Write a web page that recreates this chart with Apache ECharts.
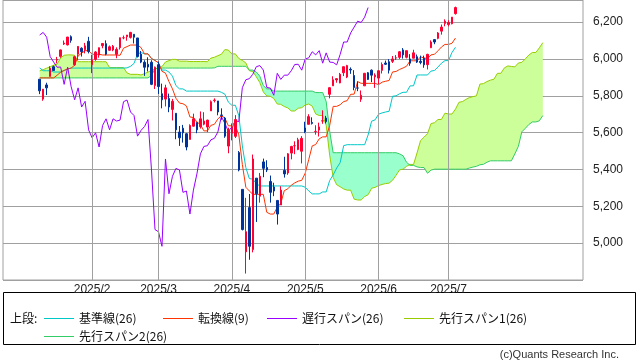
<!DOCTYPE html>
<html><head><meta charset="utf-8">
<script src="https://cdn.jsdelivr.net/npm/echarts@6/dist/echarts.min.js"></script>
<style>html,body{margin:0;padding:0;background:#fff}#c{width:638px;height:362px}</style>
</head><body><div id="c"></div>
<script>
// ---- tick labels ----
const monthLabels = ['2025/2','2025/3','2025/4','2025/5','2025/6','2025/7'];
const monthIdx = [25,44,65,86,107,127];
const yTicks = [5000,5200,5400,5600,5800,6000,6200];
const slotCount = 166;
// ---- candles (start at slot 10) ----
const candleStart = 10;
const open = [5890,5782,5859,5905,5958,5994,6014,6081,6076,6121,
5969,6026,6058,6050,6096,5969,5998,6021,6072,6083,
6047,6049,6025,6061,6115,6121,6117,6134,6114,6026,
5982,5971,5982,5856,5969,5811,5782,5785,5726,5705,
5603,5624,5594,5563,5635,5655,5632,5646,5630,5718,
5775,5772,5696,5679,5527,5597,5580,5492,5292,4953,
5193,4965,5353,5255,5441,5411,5335,5305,5232,5207,
5395,5381,5489,5529,5508,5499,5625,5645,5655,5606,
5614,5663,5679,5808,5854,5886,5870,5925,5902,5944,
5910,5842,5781,5854,5925,5939,5903,5896,5938,5978,
5985,5987,6005,6009,6049,6009,6000,6004,6012,5987,
6004,5969,6061,6105,6112,6151,6193,6187,6191,6246];
const high = [5890,5837,5871,5960,5964,6011,6051,6100,6119,6128,
6017,6070,6063,6087,6120,6023,6042,6062,6084,6101,
6073,6076,6063,6116,6127,6130,6147,6134,6114,6043,
5993,6009,5993,5959,5986,5866,5860,5812,5783,5705,
5636,5642,5598,5645,5703,5655,5715,5711,5670,5775,
5786,5772,5732,5685,5627,5650,5695,5500,5292,5246,
5267,5481,5353,5381,5459,5450,5367,5328,5232,5309,
5469,5489,5528,5553,5572,5581,5659,5700,5683,5640,
5654,5721,5691,5845,5906,5896,5924,5958,5968,5954,
5939,5878,5829,5924,5929,5943,5922,5937,5981,5991,
5999,6016,6021,6043,6059,6045,6026,6050,6024,6018,
6018,6028,6101,6108,6146,6187,6215,6210,6227,6284];
const low = [5809,5773,5804,5905,5935,5976,6006,6076,6074,6088,
5962,5994,6013,6030,6030,5923,5990,6007,6058,6020,
6045,6042,6004,6051,6107,6099,6111,6084,6008,5977,
5908,5932,5858,5837,5810,5732,5742,5711,5666,5564,
5528,5546,5504,5563,5633,5597,5622,5640,5603,5718,
5764,5694,5670,5572,5488,5558,5571,5390,5069,4835,
4910,4950,5115,5220,5358,5386,5220,5255,5101,5207,
5356,5371,5455,5483,5505,5433,5597,5645,5644,5589,
5579,5648,5650,5786,5854,5871,5868,5907,5896,5919,
5830,5825,5767,5854,5886,5874,5843,5862,5921,5967,
5921,5978,5994,6000,6002,6003,5963,6004,5978,5971,
5952,5943,6059,6080,6107,6132,6177,6177,6188,6241];
const close = [5827,5836,5843,5950,5937,5997,6049,6086,6119,6101,
6012,6068,6039,6071,6041,5995,6038,6061,6084,6026,
6066,6069,6052,6115,6115,6130,6144,6118,6013,5983,
5955,5956,5862,5955,5850,5778,5843,5739,5770,5615,
5572,5599,5522,5639,5675,5615,5675,5663,5668,5768,
5777,5712,5693,5581,5612,5633,5671,5397,5074,5062,
4983,5457,5268,5363,5406,5397,5276,5283,5158,5288,
5376,5485,5525,5529,5561,5569,5604,5687,5650,5607,
5631,5664,5660,5844,5887,5893,5917,5958,5964,5940,
5845,5842,5803,5922,5889,5912,5912,5936,5970,5971,
5939,6000,6006,6039,6022,6045,5977,6033,5983,5981,
5968,6025,6092,6092,6141,6173,6205,6198,6227,6279];
// ---- 転換線 / 基準線 (start at slot 10) ----
const tenkan = [5897,5897,5897,5897,5897,5912,5928,5938,5946,5950.5,
5966,6016.5,6031.5,6045,6045,6025.5,6025.5,6025.5,6021.5,6021.5,
6021.5,6021.5,6021.5,6019.5,6058.5,6067,6075.5,6075.5,6075.5,6062,
6027.5,6027.5,6002.5,5992,5978.5,5933,5923,5877,5837.5,5786.5,
5760.5,5757,5745,5685,5682,5658,5643.5,5609.5,5609.5,5639.5,
5645,5674.5,5691.5,5679,5637,5637,5637,5588,5427.5,5303.5,
5283.5,5265,5265,5265,5265,5167.5,5158,5158,5195.5,5215.5,
5285,5295,5314.5,5327,5336.5,5341,5380,5453.5,5528,5535.5,
5566.5,5577,5577,5639,5742.5,5742.5,5751.5,5768.5,5773.5,5808,
5809,5877,5867.5,5867.5,5867.5,5867.5,5867.5,5860.5,5874,5879,
5883,5929.5,5932,5943,5951,5960.5,5990,5990,5990,6011,
6005.5,6001,6022,6025.5,6044.5,6065,6079,6079,6085,6113.5];
const kijun = [5951,5936,5936,5936,5929,5929,5929,5936.5,5945.5,5950.5,
5950.5,5950.5,5950.5,5950.5,5950.5,5950.5,5950.5,5950.5,5950.5,5950.5,
5950.5,5950.5,5950.5,5950.5,5950.5,5951.5,5960,5975.5,6026,6035,
6027.5,6027.5,6002.5,5992,5978.5,5939.5,5939.5,5929,5906.5,5855.5,
5837.5,5837.5,5825.5,5825.5,5825.5,5825.5,5825.5,5825.5,5825.5,5825.5,
5825.5,5825.5,5819,5809,5765.5,5748.5,5748.5,5691.5,5527.5,5410.5,
5350.5,5347.5,5323.5,5310.5,5310.5,5310.5,5310.5,5310.5,5310.5,5310.5,
5310.5,5310.5,5310.5,5310.5,5310.5,5310.5,5303.5,5283.5,5267.5,5267.5,
5267.5,5278,5278,5340,5370.5,5408,5437,5529.5,5534.5,5534.5,
5534.5,5534.5,5534.5,5534.5,5587.5,5662,5669.5,5700.5,5707,5712,
5716,5797.5,5800,5811,5819,5819,5853.5,5854.5,5913,5913,
5913,5913,5934,5937.5,5956.5,5977,5991,5991,6035,6063.5];
// ---- 先行スパン (start at slot 10, runs 26 days ahead) ----
const senkouStart = 10;
const senkouA = [5935,5942,5950,5958,5966,5972,6005,6020,6022,6022,
6020,5985,5985,5985,5985,5985,5985,5985,5985,5985,
5953,5953,5953,5953,5953,
5924,5916.5,5916.5,5916.5,5913,5920.5,5928.5,5937.25,5945.75,5950.5,
5958.25,5983.5,5991,5997.75,5997.75,5988,5988,5988,5986,5986,
5986,5986,5986,5985,6004.5,6009.25,6017.75,6025.5,6050.75,6048.5,
6027.5,6027.5,6002.5,5992,5978.5,5936.25,5931.25,5903,5872,5821,
5799,5797.25,5785.25,5755.25,5753.75,5741.75,5734.5,5717.5,5717.5,5732.5,
5735.25,5750,5755.25,5744,5701.25,5692.75,5692.75,5639.75,5477.5,5357,
5317,5306.25,5294.25,5287.75,5287.75,5239,5234.25,5234.25,5253,5263,
5297.75,5302.75,5312.5,5318.75,5323.5,5325.75,5341.75,5368.5,5397.75,5401.5,
5417,5427.5,5427.5,5489.5,5556.5,5575.25,5594.25,5649,5654,5671.25,
5671.75,5705.75,5701,5701,5727.5,5764.75,5768.5,5780.5,5790.5,5795.5,
5799.5,5863.5,5866,5877,5885,5889.75,5921.75,5922.25,5951.5,5962,
5959.25,5957,5978,5981.5,6000.5,6021,6035,6035,6060,6088.5];
const senkouB = [5897,5897,5897,5897,5897,5897,5897,5897,5897,5897,
5897,5897,5897,5897,5897,5897,5897,5897,5897,5897,
5897,5897,5897,5897,5897,5897,5897,5897,5897,5897,
5897,5897,5911,5945.5,
5950.5,5950.5,5950.5,5950.5,5950.5,5950.5,5950.5,5950.5,
5950.5,5950.5,5950.5,5950.5,5950.5,5950.5,5950.5,5950.5,5951.5,
5960,5960,5960,5960,5960,5960,5960,5960,5960,
5939.5,5939.5,5929,5906.5,5855.5,5837.5,5837.5,
5825.5,5825.5,5825.5,5825.5,5825.5,5825.5,5825.5,5825.5,5825.5,
5825.5,5825.5,5825.5,5817.5,5817.5,5817.5,5768.5,5608,
5491,5491,5491,5491,5491,5491,5491,5491,5491,5491,
5491,5491,5491,5491,5491,5491,5491,5491,5491,
5484.5,5474.5,5439,5422,5422,5414,5410.5,5410.5,5379.5,5396.5,
5401.5,5401.5,5401.5,5401.5,5401.5,5401.5,5401.5,5401.5,5401.5,5401.5,
5408,5413,5417,5425.5,5428,5439,
5447,5447,5447,5447,5447,5447,5447,
5484.5,5525.5,5604.5,5623.5,5644,5658,5658,5664,5692.5];
// ---- 遅行スパン: closes drawn 25 slots back ----
const chikouLag = 25;

// legend
const legendItems = [
  {name:'基準線(26)', color:'#00c8c8', x:44, y:318},
  {name:'転換線(9)', color:'#ff3300', x:163, y:318},
  {name:'遅行スパン(26)', color:'#9900ff', x:267, y:318},
  {name:'先行スパン1(26)', color:'#99cc00', x:404, y:318},
  {name:'先行スパン2(26)', color:'#33cc66', x:44, y:336}
];

function place(arr, start){
  const out = new Array(slotCount).fill('-');
  for (let k=0;k<arr.length;k++){ const i=start+k; if(i>=0 && i<slotCount) out[i]=arr[k]; }
  return out;
}
const cats = Array.from({length:slotCount}, (_, i) => String(i));
const candleData = place(open.map((o,k)=>[o, close[k], low[k], high[k]]), candleStart);
const saP = place(senkouA, senkouStart), sbP = place(senkouB, senkouStart);
const cloudBase = saP.map((a,i)=> a==='-'?'-':Math.min(a,sbP[i]));
const cloudUp = saP.map((a,i)=> a==='-'?'-':Math.max(a-sbP[i],0));
const cloudDn = saP.map((a,i)=> a==='-'?'-':Math.max(sbP[i]-a,0));
const chikouData = place(close.slice(chikouLag), candleStart);

const chart = echarts.init(document.getElementById('c'), null, {renderer:'canvas'});
const lineBase = {type:'line', symbol:'none', showSymbol:false, silent:true, animation:false};
const grayLine = '#a0a0a0';

const graphics = [
  {type:'rect', shape:{x:3.5, y:292.5, width:632, height:52}, style:{fill:'none', stroke:'#000', lineWidth:1}},
  {type:'text', style:{text:'上段:', x:10, y:318, fill:'#111', font:'12px "Noto Sans CJK JP"', textVerticalAlign:'middle'}},
  {type:'text', style:{text:'(c)Quants Research Inc.', x:619, y:355, fill:'#333', font:'11px "Liberation Sans", Arial', textAlign:'right', textVerticalAlign:'middle'}}
];
legendItems.forEach(it=>{
  graphics.push({type:'line', shape:{x1:it.x, y1:it.y+0.5, x2:it.x+30, y2:it.y+0.5}, style:{stroke:it.color, lineWidth:1}});
  graphics.push({type:'text', style:{text:it.name, x:it.x+35, y:it.y, fill:'#111', font:'12px "Noto Sans CJK JP"', textVerticalAlign:'middle'}});
});

chart.setOption({
  animation:false,
  backgroundColor:'#fff',
  grid:{left:3, right:55, top:0, bottom:82, show:true, borderColor:grayLine, borderWidth:1, backgroundColor:'transparent'},
  xAxis:{type:'category', data:cats, boundaryGap:true,
    axisLine:{show:false}, axisTick:{show:false}, splitLine:{show:false},
    axisLabel:{interval:(idx)=>monthIdx.includes(idx), margin:4, color:'#222', fontSize:12, fontFamily:'"Liberation Sans", Arial',
      formatter:(v,idx)=>{ const k=monthIdx.indexOf(Number(v)); return k>=0?monthLabels[k]:''; }}},
  yAxis:{type:'value', position:'right', min:4800, max:6320, interval:200, scale:true,
    axisLine:{show:false}, axisTick:{show:false},
    splitLine:{show:true, lineStyle:{color:grayLine, width:1}},
    axisLabel:{margin:10, color:'#222', fontSize:12, fontFamily:'"Liberation Sans", Arial', showMinLabel:false, showMaxLabel:false,
      formatter:(v)=> yTicks.includes(v) ? v.toLocaleString('en-US') : ''}},
  graphic:graphics,
  series:[
    Object.assign({}, lineBase, {name:'monthGrid', data:new Array(slotCount).fill('-'), z:1,
      markLine:{silent:true, symbol:'none', animation:false, label:{show:false},
        lineStyle:{color:grayLine, width:1, type:'solid'},
        data:monthIdx.map(i=>({xAxis:i}))}}),
    Object.assign({}, lineBase, {name:'cloudBase', stack:'cloud', data:cloudBase, lineStyle:{opacity:0, width:0}, z:2}),
    Object.assign({}, lineBase, {name:'cloudUp', stack:'cloud', data:cloudUp, lineStyle:{opacity:0, width:0}, areaStyle:{color:'#ccff99', opacity:1}, z:2}),
    Object.assign({}, lineBase, {name:'cloudDn', stack:'cloud', data:cloudDn, lineStyle:{opacity:0, width:0}, areaStyle:{color:'#99ffcc', opacity:1}, z:2}),
    Object.assign({}, lineBase, {name:'先行スパン1(26)', data:saP, lineStyle:{color:'#99cc00', width:1}, z:3}),
    Object.assign({}, lineBase, {name:'先行スパン2(26)', data:sbP, lineStyle:{color:'#33cc66', width:1}, z:3}),
    Object.assign({}, lineBase, {name:'基準線(26)', data:place(kijun, candleStart), lineStyle:{color:'#00c8c8', width:1}, z:4}),
    Object.assign({}, lineBase, {name:'転換線(9)', data:place(tenkan, candleStart), lineStyle:{color:'#ff3300', width:1}, z:4}),
    Object.assign({}, lineBase, {name:'遅行スパン(26)', data:chikouData, lineStyle:{color:'#9900ff', width:1}, z:4}),
    {type:'candlestick', name:'price', data:candleData, barWidth:2, silent:true, animation:false, z:5,
      itemStyle:{color:'#ff0033', color0:'#003399', borderColor:'#ff0033', borderColor0:'#003399', borderWidth:1}}
  ]
});
</script>
</body></html>
